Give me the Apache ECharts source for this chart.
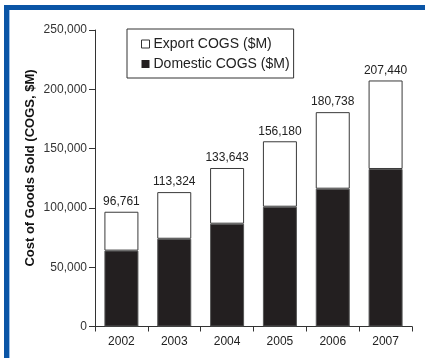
<!DOCTYPE html>
<html>
<head>
<meta charset="utf-8">
<script src="https://cdn.jsdelivr.net/npm/echarts@6/dist/echarts.min.js"></script>
<style>html,body{margin:0;padding:0;background:#fff}#c{width:425px;height:358px}</style>
</head>
<body>
<div id="c"></div>
<script>
var years = ['2002', '2003', '2004', '2005', '2006', '2007'];
var domestic = [64000, 74000, 86700, 101000, 116200, 132800];
var exportCogs = [32761, 39324, 46943, 55180, 64538, 74640];
var totalLabels = ['96,761', '113,324', '133,643', '156,180', '180,738', '207,440'];
var yTicks = [0, 50000, 100000, 150000, 200000, 250000];

var FONT = 'Liberation Sans, Arial, sans-serif';
var chart = echarts.init(document.getElementById('c'), null, {renderer: 'canvas'});
chart.setOption({
  animation: false,
  backgroundColor: '#fff',
  textStyle: {fontFamily: FONT},
  grid: {left: 95, right: 13, top: 30, bottom: 31.5},
  legend: {
    orient: 'vertical', left: 127, top: 29,
    padding: [8, 4, 7, 14], itemGap: 6,
    itemWidth: 8, itemHeight: 8, icon: 'rect',
    borderColor: '#333', borderWidth: 1, backgroundColor: '#fff',
    data: [
      {name: 'Export COGS ($M)', itemStyle: {color: '#fff', borderColor: '#333', borderWidth: 1}},
      {name: 'Domestic COGS ($M)', itemStyle: {color: '#231f20', borderColor: '#231f20', borderWidth: 0}}
    ],
    textStyle: {fontSize: 14, color: '#222', fontFamily: FONT, padding: [0, 0, 0, -1], lineHeight: 14}
  },
  xAxis: {
    type: 'category', data: years,
    axisLine: {lineStyle: {color: '#333', width: 1}},
    axisTick: {show: true, alignWithLabel: false, length: 5, lineStyle: {color: '#333'}},
    axisLabel: {fontSize: 12, color: '#222', margin: 9, fontFamily: FONT}
  },
  yAxis: {
    type: 'value', min: 0, max: 250000, interval: 50000,
    splitLine: {show: false},
    axisLine: {show: true, lineStyle: {color: '#333', width: 1}},
    axisTick: {show: true, length: 6, lineStyle: {color: '#333'}},
    axisLabel: {fontSize: 12, color: '#333', margin: 8, fontFamily: FONT,
      formatter: function (v) { return yTicks.indexOf(v) >= 0 ? v.toLocaleString('en-US') : ''; }}
  },
  graphic: [
    {type: 'rect', shape: {x: 4, y: 5, width: 5, height: 353}, style: {fill: '#0a55a6'}, z: 100},
    {type: 'rect', shape: {x: 4, y: 5, width: 421, height: 5}, style: {fill: '#0a55a6'}, z: 100},
    {type: 'rect', shape: {x: 9, y: 10, width: 1, height: 348}, style: {fill: '#9cc0e8'}, z: 100},
    {type: 'text', x: 30, y: 168, rotation: Math.PI / 2,
      style: {text: 'Cost of Goods Sold (COGS, $M)', font: 'bold 13px ' + FONT, fill: '#111',
        align: 'center', verticalAlign: 'middle'}}
  ],
  series: [
    {
      name: 'Domestic COGS ($M)', type: 'bar', stack: 'cogs', barWidth: 34,
      data: domestic,
      itemStyle: {color: '#231f20', borderColor: '#555', borderWidth: 1}
    },
    {
      name: 'Export COGS ($M)', type: 'bar', stack: 'cogs', barWidth: 34,
      data: exportCogs,
      itemStyle: {color: '#fff', borderColor: '#3a3a3a', borderWidth: 1},
      label: {show: true, position: 'top', distance: 4, fontSize: 12, color: '#222', fontFamily: FONT,
        formatter: function (p) { return totalLabels[p.dataIndex]; }}
    }
  ]
});
</script>
</body>
</html>
